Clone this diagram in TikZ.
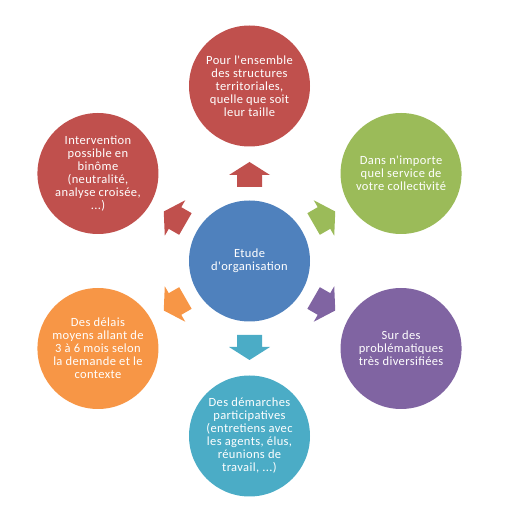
\documentclass[tikz,border=0pt]{standalone}
\usepackage{fontspec}
\newfontfamily\calfont{Carlito}[LetterSpace=3]
\definecolor{cred}{HTML}{C0504D}
\definecolor{cgreen}{HTML}{9BBB59}
\definecolor{cpurple}{HTML}{8064A2}
\definecolor{cteal}{HTML}{4BACC6}
\definecolor{corange}{HTML}{F79646}
\definecolor{cblue}{HTML}{4F81BD}
\tikzset{
  bubble/.style={circle, minimum size=121pt, inner sep=0pt, text=white, align=center,
    font=\calfont\fontsize{12.5}{13}\selectfont},
  blockarrow/.style={fill=#1}
}
\newcommand\blockarr[2]{%
  \fill[blockarrow=#2, shift={(c.center)}, rotate=#1]
    (74,-12.5) -- (86,-12.5) -- (86,-20.5) -- (99,0) -- (86,20.5) -- (86,12.5) -- (74,12.5) -- cycle;}
\begin{document}
\begin{tikzpicture}[x=1pt,y=1pt]
\useasboundingbox (0,0) rectangle (509,522);
\node[bubble, fill=cblue] (c) at (249.5,261) {Etude\\d'organisation};
\node[bubble, fill=cred] (n1) at ([shift={(90:175pt)}]c.center) {Pour l'ensemble\\des structures\\territoriales,\\quelle que soit\\leur taille};
\node[bubble, fill=cgreen] (n2) at ([shift={(30:175pt)}]c.center) {Dans n'importe\\quel service de\\votre collectivité};
\node[bubble, fill=cpurple] (n3) at ([shift={(-30:175pt)}]c.center) {Sur des\\problématiques\\très diversifiées};
\node[bubble, fill=cteal] (n4) at ([shift={(-90:175pt)}]c.center) {Des démarches\\participatives\\(entretiens avec\\les agents, élus,\\réunions de\\travail, ...)};
\node[bubble, fill=corange] (n5) at ([shift={(-150:175pt)}]c.center) {Des délais\\moyens allant de\\3 à 6 mois selon\\la demande et le\\contexte};
\node[bubble, fill=cred] (n6) at ([shift={(150:175pt)}]c.center) {Intervention\\possible en\\binôme\\(neutralité,\\analyse croisée,\\...)};
\blockarr{90}{cred}
\blockarr{30}{cgreen}
\blockarr{-30}{cpurple}
\blockarr{-90}{cteal}
\blockarr{-150}{corange}
\blockarr{150}{cred}
\end{tikzpicture}
\end{document}
